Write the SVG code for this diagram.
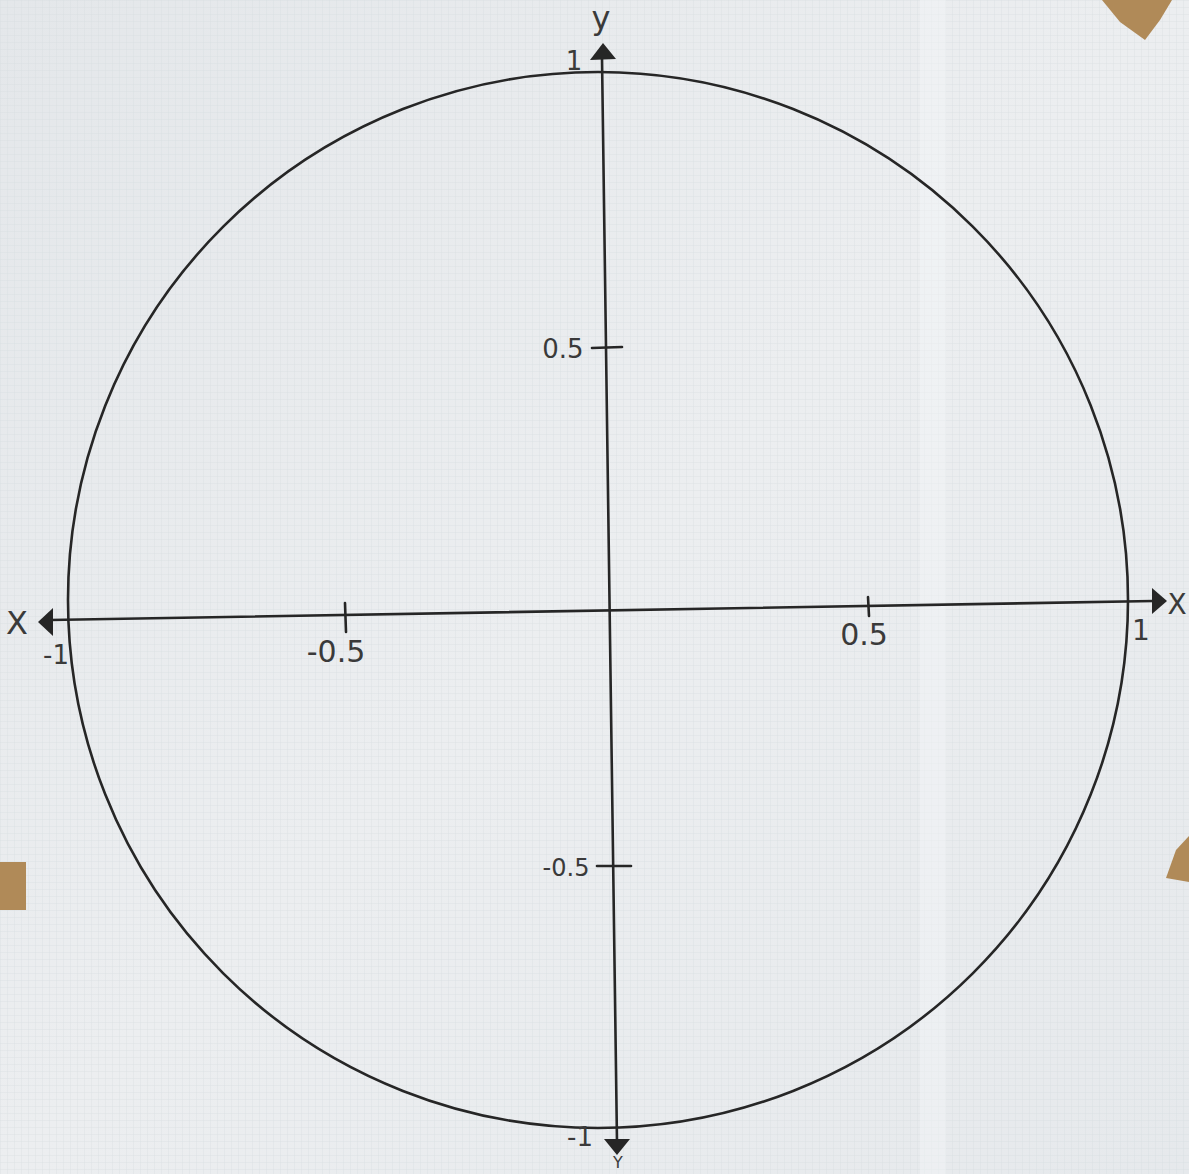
<svg xmlns="http://www.w3.org/2000/svg" width="1189" height="1174" viewBox="0 0 1189 1174">
<defs>
<pattern id="grid" width="7" height="7" patternUnits="userSpaceOnUse">
<path d="M7 0H0V7" fill="none" stroke="#d3d8dd" stroke-width="0.6"/>
</pattern>
<linearGradient id="paper" x1="0" y1="0" x2="1" y2="1">
<stop offset="0" stop-color="#e4e7ea"/>
<stop offset="0.5" stop-color="#eceef0"/>
<stop offset="1" stop-color="#e6e9ec"/>
</linearGradient>
<style>
.ax{stroke:#262626;stroke-width:2.6;fill:none;stroke-linecap:round}
.head{fill:#262626}
.lbl{font-family:"DejaVu Sans",sans-serif;fill:#3a3a3a}
.tape{fill:#b08a58}
</style>
</defs>
<rect width="1189" height="1174" fill="url(#paper)"/>
<rect width="1189" height="1174" fill="url(#grid)"/>
<rect x="920" y="0" width="26" height="1174" fill="#f4f6f8" opacity="0.45"/>
<polygon class="tape" points="1102,0 1172,0 1160,20 1145,40 1120,22"/>
<rect class="tape" x="0" y="862" width="26" height="48"/>
<polygon class="tape" points="1189,836 1189,882 1166,878 1176,850"/>
<g id="circle">
<ellipse cx="598" cy="600" rx="530" ry="528" class="ax" stroke-width="2.4"/>
</g>
<g id="connectors">
<line class="ax" x1="50" y1="620" x2="1153" y2="601"/>
<polygon class="head" points="38,622 53,608 53,636"/>
<polygon class="head" points="1167,601 1152,588 1152,614"/>
<line class="ax" x1="602" y1="58" x2="617" y2="1142"/>
<polygon class="head" points="603,43 590,60 616,59"/>
<polygon class="head" points="617,1155 604,1139 630,1139"/>
<line class="ax" x1="345" y1="603" x2="346" y2="632"/>
<line class="ax" x1="868" y1="597" x2="869" y2="616"/>
<line class="ax" x1="592" y1="348" x2="622" y2="347"/>
<line class="ax" x1="597" y1="866" x2="631" y2="866"/>
</g>
<g id="labels">
<text class="lbl" x="601" y="29" font-size="32" text-anchor="middle">y</text>
<text class="lbl" x="574" y="70" font-size="26" text-anchor="middle">1</text>
<text class="lbl" x="17" y="634" font-size="32" text-anchor="middle">X</text>
<text class="lbl" x="56" y="664" font-size="26" text-anchor="middle">-1</text>
<text class="lbl" x="336" y="662" font-size="30" text-anchor="middle">-0.5</text>
<text class="lbl" x="864" y="645" font-size="30" text-anchor="middle">0.5</text>
<text class="lbl" x="563" y="358" font-size="26" text-anchor="middle">0.5</text>
<text class="lbl" x="566" y="876" font-size="24" text-anchor="middle">-0.5</text>
<text class="lbl" x="1141" y="640" font-size="28" text-anchor="middle">1</text>
<text class="lbl" x="1177" y="614" font-size="28" text-anchor="middle">X</text>
<text class="lbl" x="580" y="1146" font-size="26" text-anchor="middle">-1</text>
<text class="lbl" x="618" y="1168" font-size="16" text-anchor="middle">Y</text>
</g>
</svg>
